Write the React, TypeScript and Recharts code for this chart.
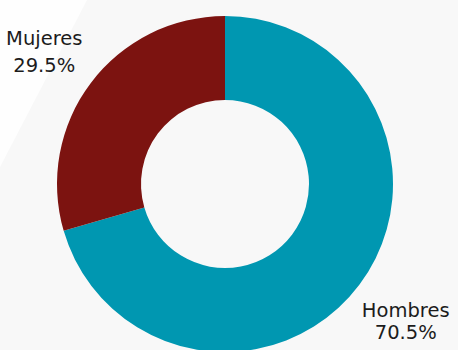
import { Cell, Pie, PieChart } from "recharts";

const categories = ["Hombres", "Mujeres"];
const shares = [70.5, 29.5];
const colors = ["#0097B1", "#7C1310"];

const data = categories.map((name, i) => ({ name, value: shares[i] }));

const RAD = Math.PI / 180;

function renderLabel(props: any) {
  const { cx, cy, midAngle, outerRadius, name, value } = props;
  const r = outerRadius + 58;
  const x = cx + r * Math.cos(-midAngle * RAD);
  const y = cy + r * Math.sin(-midAngle * RAD);
  // the upper label sits with slightly looser line spacing in the original
  const gap = y < cy ? 27 : 22.5;
  return (
    <text
      x={x}
      y={y}
      textAnchor="middle"
      fill="#1c1c1c"
      fontSize={19.5}
      fontFamily="'DejaVu Sans', sans-serif"
    >
      <tspan x={x} dy={-3}>
        {name}
      </tspan>
      <tspan x={x} dy={gap}>
        {value.toFixed(1)}%
      </tspan>
    </text>
  );
}

export default function App() {
  return (
    <div
      style={{
        position: "absolute",
        top: 0,
        left: 0,
        width: 458,
        height: 350,
        overflow: "hidden",
        background: "#f8f8f8",
      }}
    >
      <div
        style={{
          position: "absolute",
          inset: 0,
          background: "#fefefe",
          clipPath: "polygon(0 0, 87px 0, 0 167px)",
        }}
      />
      <PieChart
        width={458}
        height={350}
        margin={{ top: 0, right: 0, bottom: 0, left: 0 }}
        style={{ position: "absolute", top: 0, left: 0 }}
      >
        <Pie
          data={data}
          dataKey="value"
          nameKey="name"
          cx={225}
          cy={184}
          innerRadius={84}
          outerRadius={168}
          startAngle={90}
          endAngle={-270}
          stroke="none"
          labelLine={false}
          label={renderLabel}
          isAnimationActive={false}
        >
          {data.map((d, i) => (
            <Cell key={d.name} fill={colors[i]} />
          ))}
        </Pie>
      </PieChart>
    </div>
  );
}
